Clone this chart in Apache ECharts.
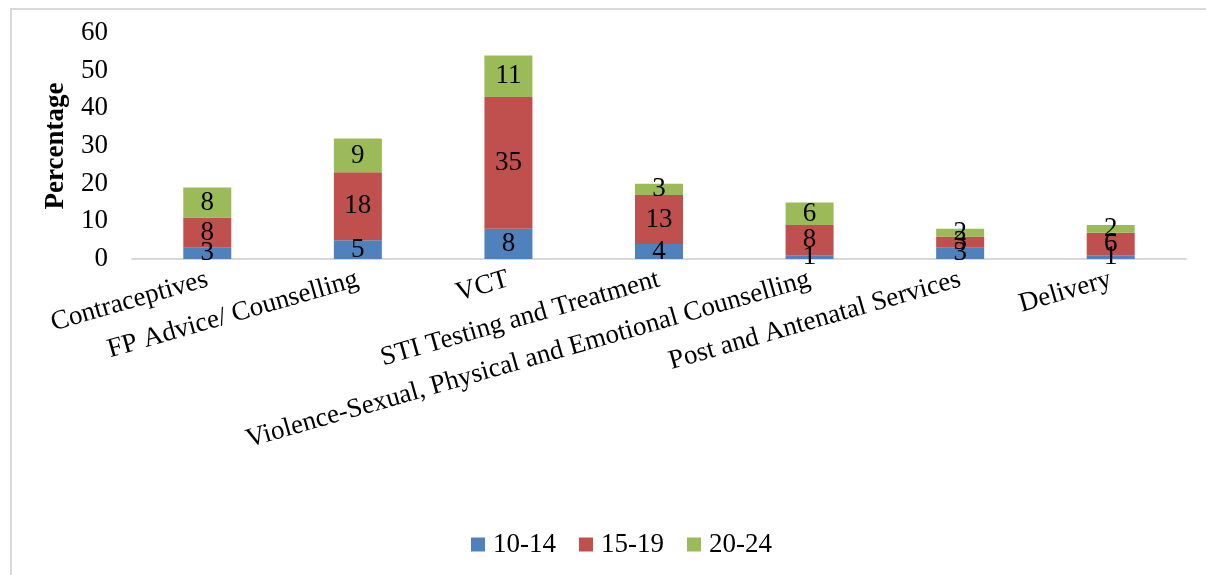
<!DOCTYPE html>
<html>
<head>
<meta charset="utf-8">
<script src="https://cdn.jsdelivr.net/npm/echarts@6/dist/echarts.min.js"></script>
<style>
html,body{margin:0;padding:0;background:#fff;}
#chart{width:1206px;height:575px;}
</style>
</head>
<body>
<div id="chart"></div>
<script>
var categories = ["Contraceptives", "FP Advice/ Counselling", "VCT", "STI Testing and Treatment", "Violence-Sexual, Physical and Emotional Counselling", "Post and Antenatal Services", "Delivery"];
var age10_14 = [3, 5, 8, 4, 1, 3, 1];
var age15_19 = [8, 18, 35, 13, 8, 3, 6];
var age20_24 = [8, 9, 11, 3, 6, 2, 2];
var seriesNames = ["10-14", "15-19", "20-24"];
var yTicks = [0, 10, 20, 30, 40, 50, 60];

var FONT = '"Liberation Serif", "Times New Roman", serif';
var colors = ['#4F81BD', '#C0504D', '#9BBB59'];

function mk(name, data, color) {
  return {
    name: name,
    type: 'bar',
    stack: 'total',
    barWidth: 48,
    data: data,
    itemStyle: { color: color },
    label: {
      show: true,
      position: 'inside',
      color: '#000',
      fontFamily: FONT,
      fontSize: 27
    }
  };
}

var chart = echarts.init(document.getElementById('chart'));
chart.setOption({
  animation: false,
  backgroundColor: '#fff',
  graphic: [{
    type: 'rect',
    shape: { x: 11, y: 9, width: 1210, height: 600 },
    style: { fill: 'none', stroke: '#d9d9d9', lineWidth: 2 },
    silent: true
  }],
  grid: { left: 132, right: 20, top: 33, bottom: 316, containLabel: false },
  legend: {
    bottom: 12,
    left: 466,
    itemWidth: 14,
    itemHeight: 14,
    itemGap: 23,
    icon: 'rect',
    textStyle: { fontFamily: FONT, fontSize: 27, color: '#000', padding: [0, 0, 0, 3] },
    data: seriesNames
  },
  xAxis: {
    type: 'category',
    data: categories,
    axisLine: { lineStyle: { color: '#d9d9d9', width: 2 } },
    axisTick: { show: false },
    axisLabel: {
      rotate: 16,
      interval: 0,
      margin: 20,
      color: '#000',
      fontFamily: FONT,
      fontSize: 27
    }
  },
  yAxis: {
    type: 'value',
    min: yTicks[0],
    max: yTicks[yTicks.length - 1],
    interval: 10,
    name: 'Percentage',
    nameLocation: 'middle',
    nameGap: 62,
    nameTextStyle: { fontFamily: FONT, fontSize: 27, fontWeight: 'bold', color: '#000' },
    axisLine: { show: false },
    axisTick: { show: false },
    splitLine: { show: false },
    axisLabel: { color: '#000', fontFamily: FONT, fontSize: 27, margin: 24 }
  },
  series: [
    mk(seriesNames[0], age10_14, colors[0]),
    mk(seriesNames[1], age15_19, colors[1]),
    mk(seriesNames[2], age20_24, colors[2])
  ]
});
</script>
</body>
</html>
